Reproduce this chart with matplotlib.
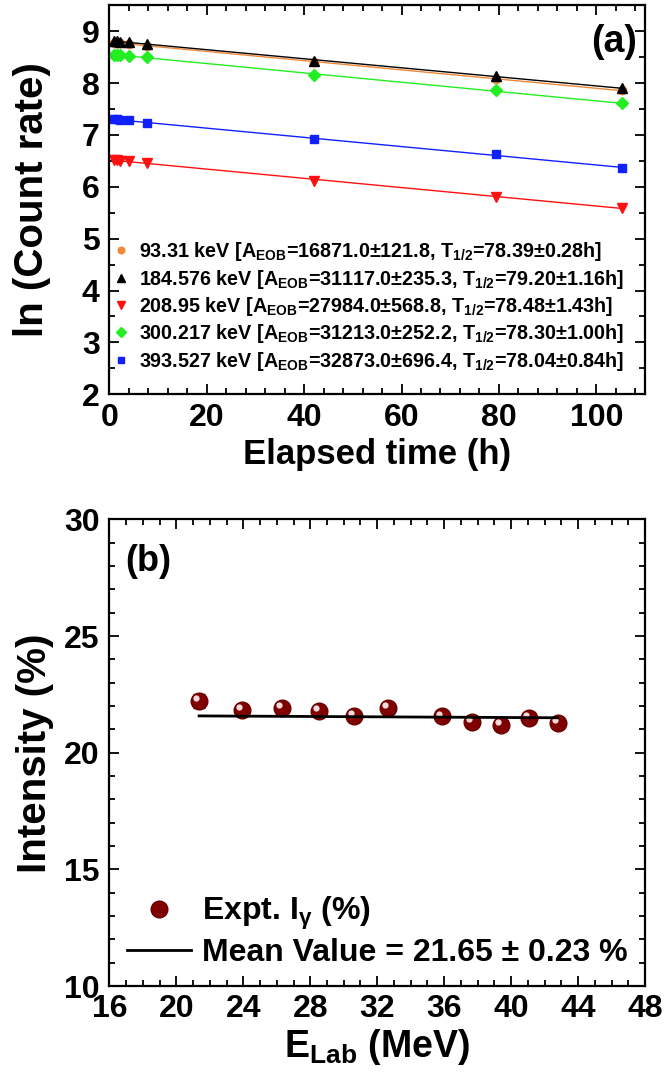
import numpy as np
import matplotlib
matplotlib.use('Agg')
import matplotlib.pyplot as plt
from matplotlib.transforms import ScaledTranslation
from matplotlib.ticker import MultipleLocator

plt.rcParams['font.family'] = ['Liberation Sans', 'DejaVu Sans']
plt.rcParams['font.weight'] = 'bold'
plt.rcParams['mathtext.fontset'] = 'custom'
plt.rcParams['mathtext.rm'] = 'Liberation Sans:bold'
plt.rcParams['mathtext.bf'] = 'Liberation Sans:bold'
plt.rcParams['mathtext.it'] = 'Liberation Sans:bold'

# (a) decay curves
time_h = [0.9, 1.5, 2.2, 4.0, 7.7, 42.0, 79.4, 105.2]
ln_9331 = [8.78, 8.78, 8.77, 8.76, 8.72, 8.41, 8.08, 7.86]
ln_184576 = [8.81, 8.81, 8.80, 8.79, 8.76, 8.43, 8.14, 7.90]
ln_20895 = [6.52, 6.51, 6.50, 6.49, 6.46, 6.11, 5.81, 5.60]
ln_300217 = [8.55, 8.54, 8.54, 8.53, 8.50, 8.15, 7.86, 7.61]
ln_393527 = [7.30, 7.30, 7.29, 7.28, 7.23, 6.93, 6.63, 6.36]

labels_a = [
    r'93.31 keV [A$_{\mathrm{EOB}}$=16871.0±121.8, T$_{1/2}$=78.39±0.28h]',
    r'184.576 keV [A$_{\mathrm{EOB}}$=31117.0±235.3, T$_{1/2}$=79.20±1.16h]',
    r'208.95 keV [A$_{\mathrm{EOB}}$=27984.0±568.8, T$_{1/2}$=78.48±1.43h]',
    r'300.217 keV [A$_{\mathrm{EOB}}$=31213.0±252.2, T$_{1/2}$=78.30±1.00h]',
    r'393.527 keV [A$_{\mathrm{EOB}}$=32873.0±696.4, T$_{1/2}$=78.04±0.84h]',
]
series_a = [ln_9331, ln_184576, ln_20895, ln_300217, ln_393527]
colors_a = ['#f0883a', 'black', '#ff1010', '#22ee22', '#1020ff']
markers_a = ['o', '^', 'v', 'D', 's']
msizes_a = [6, 7, 7, 6, 6]

# (b) intensity vs energy
e_lab = [21.36, 23.90, 26.30, 28.50, 30.62, 32.64, 35.87, 37.67, 39.37, 41.07, 42.79]
intensity = [22.24, 21.84, 21.91, 21.80, 21.57, 21.91, 21.56, 21.32, 21.21, 21.49, 21.28]
intensity_err = [0.30, 0.20, 0.20, 0.20, 0.20, 0.20, 0.20, 0.20, 0.20, 0.20, 0.20]
mean_x = [21.36, 42.79]
mean_y = [21.58, 21.50]

fig = plt.figure(figsize=(6.67, 10.8), dpi=100)
ax1 = fig.add_axes([0.164, 0.635, 0.803, 0.36])
ax2 = fig.add_axes([0.164, 0.087, 0.803, 0.432])

for y, c, m, ms, lab in zip(series_a, colors_a, markers_a, msizes_a, labels_a):
    ax1.plot(time_h, y, linestyle='none', marker=m, color=c, markersize=ms, label=lab)
    k, b = np.polyfit(time_h, y, 1)
    ax1.plot([time_h[0], time_h[-1]], [k * time_h[0] + b, k * time_h[-1] + b], color=c, lw=1)

ax1.set_xlim(0, 110)
ax1.set_ylim(2, 9.5)
ax1.xaxis.set_major_locator(MultipleLocator(20))
ax1.xaxis.set_minor_locator(MultipleLocator(4))
ax1.yaxis.set_major_locator(MultipleLocator(1))
ax1.yaxis.set_minor_locator(MultipleLocator(0.5))
ax1.set_xlabel('Elapsed time (h)', fontsize=25, fontweight='bold', labelpad=4)
ax1.set_ylabel('ln (Count rate)', fontsize=29, fontweight='bold', labelpad=22)
ax1.text(0.985, 0.905, '(a)', transform=ax1.transAxes, fontsize=27, fontweight='bold', ha='right', va='center')
leg = ax1.legend(loc='lower left', bbox_to_anchor=(0.0, 0.04), frameon=False, fontsize=14.2,
                 handlelength=0.6, handletextpad=0.6, labelspacing=0.22, markerscale=0.8,
                 borderaxespad=0.1, borderpad=0.2)

# (b)
hl = ScaledTranslation(-2.0 / 72, 2.0 / 72, fig.dpi_scale_trans)
ax2.errorbar(e_lab, intensity, yerr=intensity_err, fmt='none', ecolor='#7a0000', elinewidth=1.5, capsize=4)
ax2.plot(e_lab, intensity, linestyle='none', marker='o', markersize=12, color='#800000',
         markeredgecolor='#6a0000', label=r'Expt. I$_{\gamma}$ (%)')
ax2.plot(e_lab, intensity, linestyle='none', marker='o', markersize=4.5, color='#f4dada',
         markeredgewidth=0, transform=ax2.transData + hl)
ax2.plot(mean_x, mean_y, color='black', lw=2, label='Mean Value = 21.65 ± 0.23 %')

ax2.set_xlim(16, 48)
ax2.set_ylim(10, 30)
ax2.xaxis.set_major_locator(MultipleLocator(4))
ax2.xaxis.set_minor_locator(MultipleLocator(1))
ax2.yaxis.set_major_locator(MultipleLocator(5))
ax2.yaxis.set_minor_locator(MultipleLocator(1))
ax2.set_xlabel(r'E$_{\mathrm{Lab}}$ (MeV)', fontsize=27, fontweight='bold', labelpad=2)
ax2.set_ylabel('Intensity (%)', fontsize=29, fontweight='bold', labelpad=7)
ax2.text(0.03, 0.91, '(b)', transform=ax2.transAxes, fontsize=26, fontweight='bold', ha='left', va='center')
ax2.legend(loc='lower left', frameon=False, fontsize=23, handlelength=2.0, handletextpad=0.35,
           labelspacing=0.2, borderaxespad=0.15, markerscale=1.0)

for ax in (ax1, ax2):
    ax.tick_params(which='both', direction='in', top=True, right=True, labelsize=23, width=1.3)
    ax.tick_params(which='major', length=7)
    ax.tick_params(which='minor', length=4)
    ax.tick_params(axis='x', which='major', pad=6)
    ax.tick_params(axis='y', which='major', pad=7)
    for lab in ax.get_xticklabels() + ax.get_yticklabels():
        lab.set_fontweight('bold')
    for s in ax.spines.values():
        s.set_linewidth(1.6)

fig.savefig('out.png', dpi=100)
